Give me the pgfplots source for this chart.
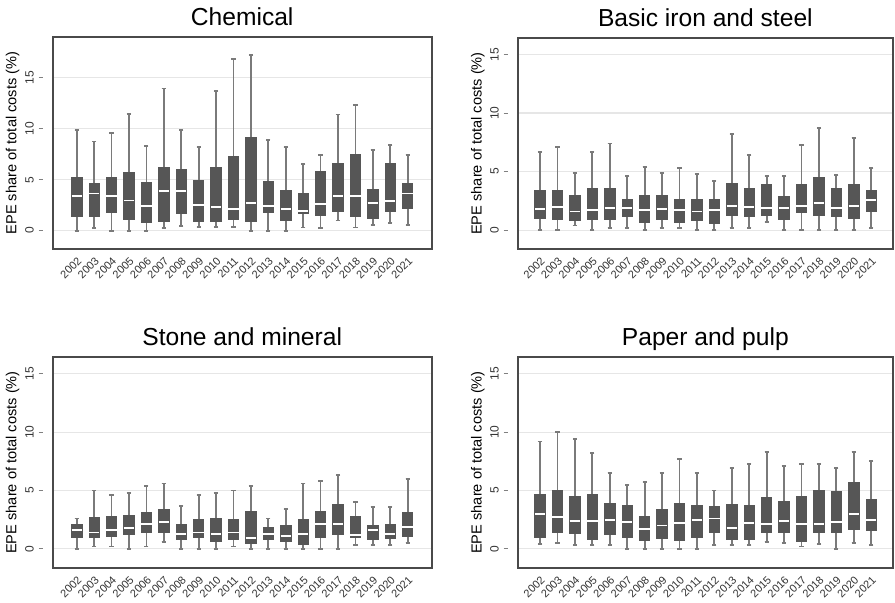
\documentclass[border=0pt]{standalone}
\usepackage{pgfplots}
\pgfplotsset{compat=1.18}
\usepackage{pgfplotstable}
\usepgfplotslibrary{statistics}
\usepackage{fontspec}
\setmainfont{Liberation Sans}
\definecolor{boxc}{HTML}{565656}
\definecolor{whc}{HTML}{7A7A7A}
\definecolor{gridc}{HTML}{E6E6E6}
\definecolor{framec}{HTML}{4A4A4A}

\pgfplotstableread{
yr lw lq med uq uw
2002 0.0 1.4 3.4 5.25 9.85
2003 0.25 1.35 3.65 4.6 8.75
2004 0.0 1.8 3.4 5.25 9.6
2005 0.0 1.15 2.95 5.75 11.45
2006 0.0 0.85 2.45 4.7 8.3
2007 0.25 0.95 3.9 6.2 13.95
2008 0.45 1.65 3.9 6.05 9.85
2009 0.35 0.95 2.5 4.95 8.2
2010 0.35 0.9 2.3 6.25 13.7
2011 0.35 1.15 2.15 7.3 16.85
2012 0.0 0.9 2.75 9.1 17.2
2013 0.0 1.8 2.45 4.85 8.9
2014 0.0 1.0 2.15 3.95 8.2
2015 0.3 1.65 1.9 3.65 6.5
2016 0.25 1.5 2.65 5.8 7.4
2017 1.0 1.9 3.4 6.6 11.4
2018 0.3 1.4 3.4 7.45 12.3
2019 0.55 1.25 2.75 4.05 7.95
2020 0.75 1.85 2.9 6.6 8.4
2021 0.55 2.15 3.65 4.6 7.45
}\chem

\pgfplotstableread{
yr lw lq med uq uw
2002 0.0 1.0 1.8 3.4 6.7
2003 0.0 0.9 2.0 3.4 7.1
2004 0.4 0.8 1.6 3.0 4.9
2005 0.0 0.9 1.7 3.6 6.7
2006 0.2 0.9 1.9 3.6 7.4
2007 0.2 1.2 1.9 2.6 4.6
2008 0.0 0.7 1.7 3.0 5.4
2009 0.2 0.9 1.8 3.0 4.9
2010 0.2 0.7 1.7 2.6 5.3
2011 0.0 0.8 1.6 2.6 4.8
2012 0.0 0.6 1.7 2.6 4.2
2013 0.2 1.3 2.1 4.0 8.2
2014 0.2 1.2 2.0 3.6 6.4
2015 0.7 1.3 1.9 3.9 4.6
2016 0.0 0.9 1.9 2.9 4.6
2017 0.0 1.5 2.1 3.9 7.3
2018 0.0 1.3 2.3 4.5 8.7
2019 0.0 1.2 1.9 3.6 4.7
2020 0.0 1.0 2.1 3.9 7.9
2021 0.2 1.6 2.6 3.4 5.3
}\iron

\pgfplotstableread{
yr lw lq med uq uw
2002 0.0 1.0 1.6 2.1 2.6
2003 0.2 1.0 1.4 2.7 5.0
2004 0.2 1.1 1.6 2.8 4.6
2005 0.0 1.2 1.8 2.9 4.8
2006 0.2 1.4 2.1 3.1 5.4
2007 0.6 1.4 2.3 3.4 5.6
2008 0.0 0.8 1.3 2.1 3.7
2009 0.0 1.0 1.4 2.5 4.6
2010 0.0 0.6 1.3 2.6 4.8
2011 0.2 0.8 1.4 2.5 5.0
2012 0.0 0.5 0.9 3.2 5.4
2013 0.0 0.8 1.3 1.8 2.6
2014 0.0 0.6 1.1 2.0 3.4
2015 0.0 0.4 1.3 2.5 5.6
2016 0.0 1.0 2.1 3.2 5.8
2017 0.0 1.2 2.1 3.8 6.3
2018 0.3 1.0 1.2 2.8 4.0
2019 0.3 0.8 1.6 2.0 3.6
2020 0.3 0.9 1.3 2.1 3.6
2021 0.5 1.1 1.9 3.1 6.0
}\stone

\pgfplotstableread{
yr lw lq med uq uw
2002 0.4 1.0 3.0 4.7 9.2
2003 0.5 1.4 2.7 5.0 10.0
2004 0.3 1.3 2.4 4.5 9.4
2005 0.3 0.8 2.4 4.7 8.2
2006 0.3 1.2 2.5 3.9 6.5
2007 0.0 1.0 2.3 3.7 5.5
2008 0.0 0.7 1.7 2.8 5.7
2009 0.0 0.9 2.0 3.4 6.5
2010 0.0 0.7 2.2 3.9 7.7
2011 0.0 1.0 2.5 3.7 6.5
2012 0.3 1.4 2.6 3.6 5.0
2013 0.3 0.8 1.8 3.8 6.9
2014 0.3 0.8 2.2 3.7 7.3
2015 0.6 1.4 2.1 4.4 8.3
2016 0.5 1.4 2.4 4.1 7.1
2017 0.2 0.6 2.1 4.5 7.3
2018 0.4 1.4 2.1 5.0 7.3
2019 0.0 1.4 2.3 4.9 6.9
2020 0.5 1.7 3.0 5.7 8.3
2021 0.3 1.6 2.5 4.2 7.5
}\paper

\pgfplotsset{
  epe/.style={
    scale only axis,
    anchor=south west,
    ytick={0,5,10,15},
    xtick={1,...,20},
    xticklabels={2002,2003,2004,2005,2006,2007,2008,2009,2010,2011,2012,2013,2014,2015,2016,2017,2018,2019,2020,2021},
    ymajorgrids,
    major grid style={draw=gridc, line width=0.6pt},
    axis line style={draw=framec, line width=0.9pt},
    tick align=outside,
    ytick pos=left,
    xtick pos=bottom,
    major tick length=2pt,
    xtick style={draw=none},
    ytick style={draw=gray, line width=0.5pt, xshift=-5pt},
    /pgf/number format/assume math mode=true,
    yticklabel style={font=\fontsize{6}{7}\selectfont, rotate=90, anchor=south, text=black!80},
    yticklabel shift=4pt,
    xticklabel style={font=\fontsize{5.5}{6}\selectfont, rotate=45, anchor=north east, inner sep=1pt, text=black!80},
    ylabel={EPE share of total costs (\%)},
    ylabel style={font=\fontsize{7.3}{8}\selectfont, at={(axis description cs:-0.106,0.5)}, anchor=center},
    every axis title/.style={font=\fontsize{12.3}{14}\selectfont, at={(axis description cs:0.5,1)}, anchor=base, yshift=5.5pt},
  },
  boxst/.style={
    draw=boxc, fill=boxc, line width=0.4pt, solid, mark=none,
    boxplot/draw direction=y,
    boxplot/box extend=0.6,
    boxplot/whisker extend=0.24,
    boxplot/every whisker/.style={draw=whc, line width=0.9pt},
    boxplot/every median/.style={draw=white, line width=0.9pt},
  },
}

\newcommand{\boxes}[1]{%
  \pgfplotsinvokeforeach{0,...,19}{%
    \pgfplotstablegetelem{##1}{lw}\of#1\edef\vlw{\pgfplotsretval}%
    \pgfplotstablegetelem{##1}{lq}\of#1\edef\vlq{\pgfplotsretval}%
    \pgfplotstablegetelem{##1}{med}\of#1\edef\vmed{\pgfplotsretval}%
    \pgfplotstablegetelem{##1}{uq}\of#1\edef\vuq{\pgfplotsretval}%
    \pgfplotstablegetelem{##1}{uw}\of#1\edef\vuw{\pgfplotsretval}%
    \pgfmathtruncatemacro\vpos{##1+1}%
    \edef\doplot{\noexpand\addplot[boxst, boxplot prepared={draw position=\vpos,
      lower whisker=\vlw, lower quartile=\vlq, median=\vmed,
      upper quartile=\vuq, upper whisker=\vuw}] coordinates {};}%
    \doplot
  }%
}

\begin{document}
\begin{tikzpicture}
\useasboundingbox (0,0) rectangle (447.5pt,301.5pt);
\begin{axis}[epe, at={(26.35pt,177pt)}, width=189.5pt, height=106pt,
  xmin=-0.38, xmax=21.38, ymin=-1.8, ymax=19.0, title={Chemical}]
\boxes{\chem}
\end{axis}
\begin{axis}[epe, at={(258.85pt,177pt)}, width=187.65pt, height=105.5pt,
  xmin=-0.28, xmax=21.25, ymin=-1.6, ymax=16.4, title={Basic iron and steel}]
\boxes{\iron}
\end{axis}
\begin{axis}[epe, at={(26.35pt,17.5pt)}, width=189.5pt, height=105.5pt,
  xmin=-0.38, xmax=21.38, ymin=-1.65, ymax=16.45, title={Stone and mineral}]
\boxes{\stone}
\end{axis}
\begin{axis}[epe, at={(258.85pt,17.5pt)}, width=187.65pt, height=105.5pt,
  xmin=-0.28, xmax=21.25, ymin=-1.65, ymax=16.45, title={Paper and pulp}]
\boxes{\paper}
\end{axis}
\end{tikzpicture}
\end{document}
